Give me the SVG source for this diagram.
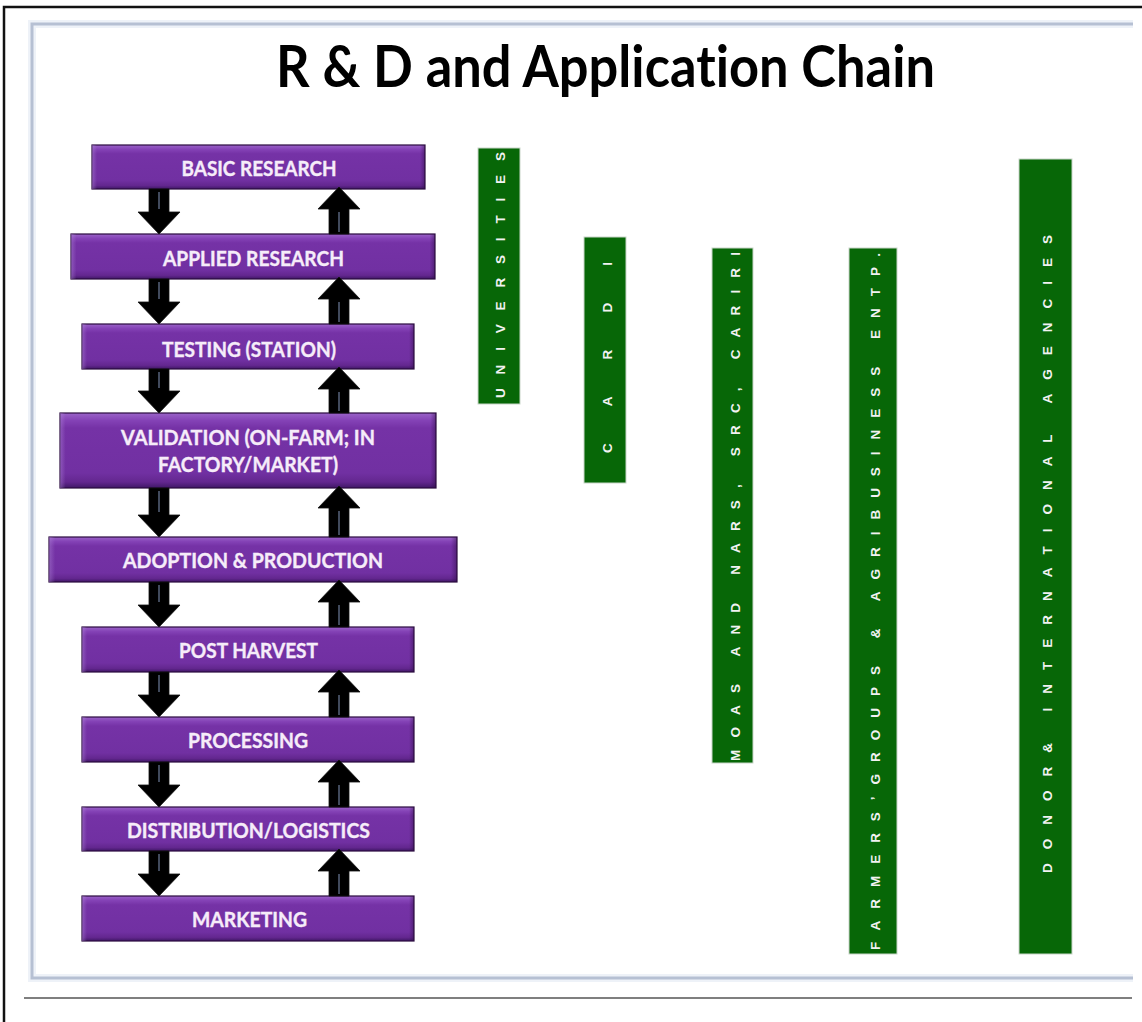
<svg xmlns="http://www.w3.org/2000/svg" width="1142" height="1022" viewBox="0 0 1142 1022">
  <style>
    text { font-variant-ligatures: none; }
    .title { font-family: Lato, "Open Sans", "Liberation Sans", sans-serif; font-weight: 700; font-size: 57px; fill: #000; }
    .stage rect.body { fill: url(#purpleV); stroke: #2a0b3f; stroke-width: 1.2; }
    .stage rect.sides { fill: url(#purpleH); }
    .stage text { font-family: Lato, "Open Sans", "Liberation Sans", sans-serif; font-weight: 700; font-size: 20px; fill: #f6ecf9; stroke: #f6ecf9; stroke-width: 0.35; text-anchor: middle; }
    .actor rect { fill: #076707; stroke: #c9d6c9; stroke-width: 1; }
    .actor text { font-family: "Liberation Sans", Arial, sans-serif; font-weight: 700; font-size: 13.5px; fill: #f2f2f2; }
    .arrow { fill: #000; stroke: #111; stroke-width: 0.8; }
    .shine { stroke: #8294b8; stroke-width: 1; fill: none; }
  </style>
  <defs>
    <linearGradient id="purpleV" x1="0" y1="0" x2="0" y2="1">
      <stop offset="0" stop-color="#9a63c8"/>
      <stop offset="0.1" stop-color="#8442b6"/>
      <stop offset="0.2" stop-color="#7532a6"/>
      <stop offset="0.8" stop-color="#7130a2"/>
      <stop offset="0.92" stop-color="#63278f"/>
      <stop offset="1" stop-color="#401766"/>
    </linearGradient>
    <linearGradient id="purpleH" x1="0" y1="0" x2="1" y2="0">
      <stop offset="0" stop-color="#b088d8" stop-opacity="0.45"/>
      <stop offset="0.015" stop-color="#b088d8" stop-opacity="0"/>
      <stop offset="0.985" stop-color="#2a0b3f" stop-opacity="0"/>
      <stop offset="1" stop-color="#2a0b3f" stop-opacity="0.45"/>
    </linearGradient>
  </defs>

  <rect x="0" y="0" width="1142" height="1022" fill="#ffffff"/>

  <!-- page frame -->
  <g id="frame" fill="none">
    <path d="M1142,7 H4 V1022" stroke="#111" stroke-width="2.5"/>
    <path d="M1133,24 H32 V978 H1133" stroke="#eef2f8" stroke-width="8"/>
    <path d="M1133,24 H32 V978 H1133" stroke="#b6c0d3" stroke-width="3"/>
    <path d="M24,998 H1132" stroke="#555" stroke-width="1.6"/>
  </g>

  <text class="title" x="276" y="87" textLength="659" lengthAdjust="spacingAndGlyphs">R &amp; D and Application Chain</text>

  <!-- chain stages -->
  <g id="basic-research" class="stage">
    <rect class="body" x="92" y="145" width="333" height="44"/>
    <rect class="sides" x="92" y="145" width="333" height="44"/>
    <text x="259" y="175.5" textLength="155" lengthAdjust="spacingAndGlyphs">BASIC RESEARCH</text>
  </g>
  <g id="applied-research" class="stage">
    <rect class="body" x="71" y="234" width="364" height="45"/>
    <rect class="sides" x="71" y="234" width="364" height="45"/>
    <text x="253.5" y="265.5" textLength="181" lengthAdjust="spacingAndGlyphs">APPLIED RESEARCH</text>
  </g>
  <g id="testing" class="stage">
    <rect class="body" x="82" y="324" width="332" height="45"/>
    <rect class="sides" x="82" y="324" width="332" height="45"/>
    <text x="249" y="356.5" textLength="174" lengthAdjust="spacingAndGlyphs">TESTING (STATION)</text>
  </g>
  <g id="validation" class="stage">
    <rect class="body" x="60" y="413" width="376" height="75"/>
    <rect class="sides" x="60" y="413" width="376" height="75"/>
    <text x="248" y="445" textLength="254" lengthAdjust="spacingAndGlyphs">VALIDATION (ON-FARM; IN</text>
    <text x="248" y="472" textLength="180" lengthAdjust="spacingAndGlyphs">FACTORY/MARKET)</text>
  </g>
  <g id="adoption" class="stage">
    <rect class="body" x="49" y="537" width="408" height="45"/>
    <rect class="sides" x="49" y="537" width="408" height="45"/>
    <text x="253" y="568" textLength="260" lengthAdjust="spacingAndGlyphs">ADOPTION &amp; PRODUCTION</text>
  </g>
  <g id="post-harvest" class="stage">
    <rect class="body" x="82" y="627" width="332" height="45"/>
    <rect class="sides" x="82" y="627" width="332" height="45"/>
    <text x="248.5" y="658" textLength="139" lengthAdjust="spacingAndGlyphs">POST HARVEST</text>
  </g>
  <g id="processing" class="stage">
    <rect class="body" x="82" y="717" width="332" height="45"/>
    <rect class="sides" x="82" y="717" width="332" height="45"/>
    <text x="248" y="747.5" textLength="120" lengthAdjust="spacingAndGlyphs">PROCESSING</text>
  </g>
  <g id="distribution" class="stage">
    <rect class="body" x="82" y="807" width="332" height="44"/>
    <rect class="sides" x="82" y="807" width="332" height="44"/>
    <text x="248.5" y="837.5" textLength="243" lengthAdjust="spacingAndGlyphs">DISTRIBUTION/LOGISTICS</text>
  </g>
  <g id="marketing" class="stage">
    <rect class="body" x="82" y="896" width="332" height="45"/>
    <rect class="sides" x="82" y="896" width="332" height="45"/>
    <text x="249.5" y="927" textLength="115" lengthAdjust="spacingAndGlyphs">MARKETING</text>
  </g>

  <!-- down (left) and up (right) block arrows between stages -->
  <g id="connectors">
    <path class="arrow" d="M149,189 H169 V212 H180 L159,234 L138,212 H149 Z"/>
    <path class="arrow" d="M339,187 L360,209 H349 V234 H329 V209 H318 Z"/>
    <path class="arrow" d="M149,279 H169 V302 H180 L159,324 L138,302 H149 Z"/>
    <path class="arrow" d="M339,277 L360,299 H349 V324 H329 V299 H318 Z"/>
    <path class="arrow" d="M149,369 H169 V391 H180 L159,413 L138,391 H149 Z"/>
    <path class="arrow" d="M339,367 L360,389 H349 V413 H329 V389 H318 Z"/>
    <path class="arrow" d="M149,488 H169 V515 H180 L159,537 L138,515 H149 Z"/>
    <path class="arrow" d="M339,486 L360,508 H349 V537 H329 V508 H318 Z"/>
    <path class="arrow" d="M149,582 H169 V605 H180 L159,627 L138,605 H149 Z"/>
    <path class="arrow" d="M339,580 L360,602 H349 V627 H329 V602 H318 Z"/>
    <path class="arrow" d="M149,672 H169 V695 H180 L159,717 L138,695 H149 Z"/>
    <path class="arrow" d="M339,670 L360,692 H349 V717 H329 V692 H318 Z"/>
    <path class="arrow" d="M149,762 H169 V785 H180 L159,807 L138,785 H149 Z"/>
    <path class="arrow" d="M339,760 L360,782 H349 V807 H329 V782 H318 Z"/>
    <path class="arrow" d="M149,851 H169 V874 H180 L159,896 L138,874 H149 Z"/>
    <path class="arrow" d="M339,849 L360,871 H349 V896 H329 V871 H318 Z"/>
    <path class="shine" d="M159,192 V209 M339,212 V232 M159,282 V299 M339,302 V322 M159,372 V388 M339,392 V411 M159,491 V512 M339,511 V535 M159,585 V602 M339,605 V625 M159,675 V692 M339,695 V715 M159,765 V782 M339,785 V805 M159,854 V871 M339,874 V894"/>
  </g>

  <!-- participating institutions -->
  <g id="universities" class="actor">
    <rect x="478" y="148" width="42" height="256"/>
    <text transform="translate(505,398) rotate(-90)" textLength="246" lengthAdjust="spacing">UNIVERSITIES</text>
  </g>
  <g id="cardi" class="actor">
    <rect x="584" y="237" width="42" height="246"/>
    <text transform="translate(612,453) rotate(-90)" textLength="191" lengthAdjust="spacing">CARDI</text>
  </g>
  <g id="moas" class="actor">
    <rect x="712" y="248" width="41" height="515"/>
    <text transform="translate(740,761) rotate(-90)" textLength="509" lengthAdjust="spacing">MOAS AND NARS, SRC, CARIRI</text>
  </g>
  <g id="farmers" class="actor">
    <rect x="849" y="248" width="48" height="706"/>
    <text transform="translate(880,950) rotate(-90)" textLength="697" lengthAdjust="spacing">FARMERS’GROUPS &amp; AGRIBUSINESS ENTP.</text>
  </g>
  <g id="donors" class="actor">
    <rect x="1019" y="159" width="53" height="795"/>
    <text transform="translate(1052,873) rotate(-90)" textLength="638" lengthAdjust="spacing">DONOR&amp; INTERNATIONAL AGENCIES</text>
  </g>
</svg>
